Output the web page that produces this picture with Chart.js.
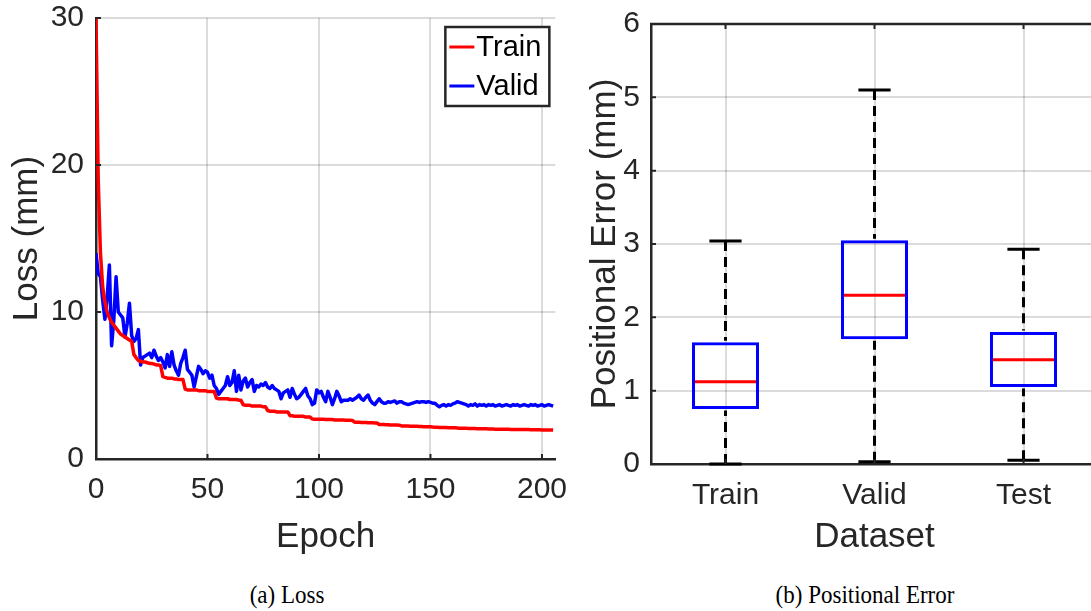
<!DOCTYPE html>
<html>
<head>
<meta charset="utf-8">
<script src="https://cdn.jsdelivr.net/npm/chart.js@4.4.1/dist/chart.umd.min.js"></script>
<style>
  html, body { margin: 0; padding: 0; background: #fff; overflow: hidden; width: 1091px; height: 611px; position: relative; }
  canvas { position: absolute; top: 0; }
  #lossChart { left: 0; }
  #errChart { left: 575px; }
  .cap { position: absolute; top: 581px; line-height: 28px; font-family: "Liberation Serif", serif; font-size: 23px; color: #000; transform: translateX(-50%) scaleY(1.12); white-space: nowrap; }
</style>
</head>
<body>
<canvas id="lossChart" width="580" height="560"></canvas>
<canvas id="errChart" width="530" height="560"></canvas>
<div class="cap" style="left:287px">(a) Loss</div>
<div class="cap" style="left:865px">(b) Positional Error</div>
<script>
// loss per epoch (epoch 0..205)
const trainLoss = [
  30, 19, 14, 11.7, 10.7, 10.0, 9.6, 9.3, 9.1, 8.9,
  8.7, 8.5, 8.4, 8.3, 8.2, 8.1, 8.0, 7.1, 6.9, 6.7,
  6.65, 6.6, 6.6, 6.55, 6.5, 6.5, 6.45, 6.4, 6.4, 6.35,
  5.6, 5.55, 5.5, 5.5, 5.5, 5.45, 5.45, 5.4, 5.4, 5.4,
  4.75, 4.7, 4.7, 4.7, 4.7, 4.7, 4.65, 4.65, 4.65, 4.65,
  4.6, 4.6, 4.6, 4.6, 4.15, 4.1, 4.1, 4.1, 4.1, 4.1,
  4.05, 4.05, 4.05, 4.05, 4.0, 4.0, 3.7, 3.65, 3.65, 3.65,
  3.6, 3.6, 3.6, 3.6, 3.6, 3.55, 3.55, 3.3, 3.25, 3.25,
  3.25, 3.2, 3.2, 3.2, 3.2, 3.2, 3.2, 2.95, 2.95, 2.9,
  2.9, 2.9, 2.9, 2.9, 2.85, 2.85, 2.85, 2.72, 2.7, 2.7,
  2.7, 2.7, 2.7, 2.68, 2.68, 2.68, 2.68, 2.66, 2.66, 2.66,
  2.65, 2.65, 2.64, 2.64, 2.63, 2.62, 2.5, 2.5, 2.5, 2.48,
  2.48, 2.48, 2.47, 2.46, 2.46, 2.45, 2.45, 2.35, 2.34, 2.34,
  2.33, 2.33, 2.32, 2.32, 2.31, 2.31, 2.3, 2.25, 2.25, 2.24,
  2.24, 2.23, 2.23, 2.22, 2.22, 2.21, 2.21, 2.2, 2.2, 2.2,
  2.19, 2.17, 2.16, 2.16, 2.15, 2.15, 2.14, 2.14, 2.13, 2.13,
  2.12, 2.12, 2.11, 2.1, 2.1, 2.09, 2.09, 2.08, 2.08, 2.07,
  2.07, 2.06, 2.06, 2.05, 2.05, 2.05, 2.04, 2.04, 2.04, 2.03,
  2.03, 2.03, 2.02, 2.02, 2.02, 2.02, 2.01, 2.01, 2.01, 2.01,
  2.0, 2.0, 2.0, 2.0, 2.0, 1.99, 1.99, 1.99, 1.99, 1.99,
  1.98, 1.98, 1.98, 1.98, 1.98, 1.97
];
const validLoss = [
  14.0, 12.6, 12.4, 10.8, 9.5, 11.0, 13.2, 7.7, 9.5, 12.4,
  10.0, 9.8, 9.6, 8.3, 9.2, 10.6, 8.4, 8.0, 8.2, 8.8,
  6.4, 6.9, 7.0, 7.1, 7.2, 6.9, 7.4, 7.0, 6.7, 6.9,
  6.6, 6.2, 7.1, 6.3, 7.3, 6.4, 6.0, 5.7, 6.5, 6.9,
  7.4, 6.1, 5.9, 5.7, 4.9, 5.6, 6.3, 6.1, 5.8, 6.0,
  5.9, 5.5, 5.7, 5.0, 4.8, 4.4, 4.6, 4.8, 5.0, 5.6,
  5.0, 5.2, 6.0, 4.6, 5.7, 4.7, 5.3, 5.5, 4.9, 5.2,
  5.4, 4.6, 5.0, 4.9, 5.1, 5.0, 5.2, 4.9, 4.8, 5.0,
  4.8, 4.7, 4.6, 4.1, 4.5, 4.6, 4.7, 4.2, 4.8, 4.4,
  4.1, 4.2, 4.4, 4.6, 4.8, 4.3, 4.1, 3.7, 3.8, 4.7,
  4.5, 4.6, 4.2, 3.9, 4.6, 4.2, 3.7, 4.1, 4.6, 4.3,
  3.9, 4.0, 4.0, 4.0, 4.1, 4.0, 4.1, 4.2, 4.35, 4.1,
  4.0, 4.2, 4.35, 4.0, 3.8, 3.7, 3.9, 4.1, 3.9, 3.8,
  3.8, 3.9, 3.85, 3.9, 3.95, 3.8, 3.9, 3.9, 3.8, 3.75,
  3.7, 3.75, 3.8, 3.85, 3.9, 3.85, 3.9, 3.9, 3.85, 3.9,
  3.85, 3.8, 3.8, 3.65, 3.55, 3.65, 3.7, 3.6, 3.7, 3.65,
  3.75, 3.8, 3.9, 3.85, 3.8, 3.75, 3.7, 3.6, 3.7, 3.65,
  3.75, 3.6, 3.7, 3.65, 3.7, 3.6, 3.7, 3.65, 3.7, 3.6,
  3.65, 3.7, 3.6, 3.65, 3.7, 3.65, 3.6, 3.7, 3.65, 3.7,
  3.6, 3.65, 3.7, 3.65, 3.6, 3.7, 3.65, 3.7, 3.6, 3.65,
  3.7, 3.6, 3.65, 3.7, 3.65, 3.6
];

// positional error box plot (mm)
const datasets = ['Train', 'Valid', 'Test'];
const whiskerLow = [0.0, 0.03, 0.05];
const q1 = [0.75, 1.70, 1.05];
const median = [1.12, 2.30, 1.42];
const q3 = [1.66, 3.05, 1.80];
const whiskerHigh = [3.04, 5.10, 2.93];

const axisColor = '#262626';
const gridColor = 'rgba(0,0,0,0.14)';
const sans = '"Liberation Sans", Arial, sans-serif';

// MATLAB style inward tick marks (+ optional top box line)
const inwardTicks = {
  id: 'inwardTicks',
  afterDatasetsDraw(chart, args, opts) {
    const { ctx, chartArea: a, scales: { x, y } } = chart;
    ctx.save();
    ctx.strokeStyle = axisColor;
    ctx.lineWidth = 2;
    ctx.beginPath();
    x.ticks.forEach((t, i) => {
      const px = x.getPixelForTick(i);
      ctx.moveTo(px, a.bottom); ctx.lineTo(px, a.bottom - 5);
      if (opts.top) { ctx.moveTo(px, a.top); ctx.lineTo(px, a.top + 5); }
    });
    y.ticks.forEach((t, i) => {
      const py = y.getPixelForTick(i);
      ctx.moveTo(a.left, py); ctx.lineTo(a.left + 5, py);
    });
    ctx.stroke();
    if (opts.top) {
      ctx.lineWidth = 2.5;
      ctx.beginPath();
      ctx.moveTo(a.left - 1, a.top); ctx.lineTo(a.right, a.top);
      ctx.stroke();
    }
    ctx.restore();
  }
};

// boxed legend in the upper right corner
const boxLegend = {
  id: 'boxLegend',
  afterDraw(chart) {
    const { ctx, chartArea: a } = chart;
    const w = 104, h = 79, right = a.right - 6, top = a.top + 9, left = right - w;
    ctx.save();
    ctx.fillStyle = '#fff';
    ctx.fillRect(left, top, w, h);
    ctx.strokeStyle = axisColor;
    ctx.lineWidth = 2.5;
    ctx.strokeRect(left, top, w, h);
    ctx.font = '29px ' + sans;
    ctx.textBaseline = 'middle';
    chart.data.datasets.forEach((ds, i) => {
      const cy = top + 20 + i * 39;
      ctx.strokeStyle = ds.borderColor;
      ctx.lineWidth = 3;
      ctx.beginPath();
      ctx.moveTo(left + 4, cy); ctx.lineTo(left + 29, cy);
      ctx.stroke();
      ctx.fillStyle = '#000';
      ctx.fillText(ds.label, left + 31, cy + 1);
    });
    ctx.restore();
  }
};

// whiskers, caps and medians on top of the box bars
const boxWhiskers = {
  id: 'boxWhiskers',
  afterDatasetsDraw(chart) {
    const { ctx, scales: { x, y } } = chart;
    const bars = chart.getDatasetMeta(0).data;
    ctx.save();
    ctx.lineWidth = 3;
    datasets.forEach((name, i) => {
      const cx = x.getPixelForValue(i);
      const half = bars[i].width / 2;
      const cap = half * 0.48;
      const yLo = y.getPixelForValue(whiskerLow[i]);
      const yHi = y.getPixelForValue(whiskerHigh[i]);
      ctx.strokeStyle = '#000';
      ctx.setLineDash([10, 6]);
      ctx.beginPath();
      ctx.moveTo(cx, yHi); ctx.lineTo(cx, y.getPixelForValue(q3[i]) - 1.5);
      ctx.moveTo(cx, yLo); ctx.lineTo(cx, y.getPixelForValue(q1[i]) + 1.5);
      ctx.stroke();
      ctx.setLineDash([]);
      ctx.beginPath();
      ctx.moveTo(cx - cap, yHi); ctx.lineTo(cx + cap, yHi);
      ctx.moveTo(cx - cap, yLo); ctx.lineTo(cx + cap, yLo);
      ctx.stroke();
      const ym = y.getPixelForValue(median[i]);
      ctx.strokeStyle = '#ff0000';
      ctx.beginPath();
      ctx.moveTo(cx - half + 3, ym); ctx.lineTo(cx + half - 3, ym);
      ctx.stroke();
    });
    ctx.restore();
  }
};

Chart.defaults.font.family = sans;
Chart.defaults.color = axisColor;
Chart.defaults.animation = false;

new Chart(document.getElementById('lossChart'), {
  type: 'line',
  data: {
    datasets: [
      { label: 'Train', data: trainLoss.map((v, i) => ({ x: i, y: v })), borderColor: '#ff0000', borderWidth: 3.5 },
      { label: 'Valid', data: validLoss.map((v, i) => ({ x: i, y: v })), borderColor: '#0000ff', borderWidth: 3.5 }
    ]
  },
  options: {
    responsive: false,
    layout: { padding: { top: 18, right: 0, left: 0, bottom: 0 } },
    elements: { point: { radius: 0 }, line: { tension: 0, borderJoinStyle: 'round' } },
    plugins: { legend: { display: false }, tooltip: { enabled: false }, inwardTicks: { top: false } },
    scales: {
      x: {
        type: 'linear', min: 0, max: 206,
        ticks: { stepSize: 50, includeBounds: false, padding: 13, font: { size: 30 }, maxRotation: 0 },
        grid: { color: gridColor, lineWidth: 2, drawTicks: false },
        border: { color: axisColor, width: 2.5 },
        title: { display: true, text: 'Epoch', font: { size: 35, lineHeight: 1.2 }, padding: { top: 0, bottom: 2 } },
        afterFit(s) { s.height = 101; }
      },
      y: {
        min: 0, max: 30,
        ticks: { stepSize: 10, padding: 12, font: { size: 30, lineHeight: 0.4 } },
        grid: { color: gridColor, lineWidth: 2, drawTicks: false },
        border: { color: axisColor, width: 2.5 },
        title: { display: true, text: 'Loss (mm)', font: { size: 35, lineHeight: 1.2 }, padding: { top: 6, bottom: 0 } },
        afterFit(s) { s.width = 96; }
      }
    }
  },
  plugins: [inwardTicks, boxLegend]
});

new Chart(document.getElementById('errChart'), {
  type: 'bar',
  data: {
    labels: datasets,
    datasets: [{
      label: 'IQR',
      data: datasets.map((d, i) => [q1[i], q3[i]]),
      backgroundColor: 'rgba(0,0,0,0)',
      borderColor: '#0000ff',
      borderWidth: 3,
      borderSkipped: false,
      barPercentage: 0.45,
      categoryPercentage: 1
    }]
  },
  options: {
    responsive: false,
    layout: { padding: { top: 24, right: 7, left: 0, bottom: 0 } },
    plugins: { legend: { display: false }, tooltip: { enabled: false }, inwardTicks: { top: true } },
    scales: {
      x: {
        ticks: { padding: 14, font: { size: 30 } },
        grid: { color: gridColor, lineWidth: 2, drawTicks: false, offset: false },
        border: { color: axisColor, width: 2.5 },
        title: { display: true, text: 'Dataset', font: { size: 35, lineHeight: 1.2 }, padding: { top: 0, bottom: 2 } },
        afterFit(s) { s.height = 96; }
      },
      y: {
        min: 0, max: 6,
        ticks: { stepSize: 1, padding: 11, font: { size: 30, lineHeight: 0.4 } },
        grid: { color: gridColor, lineWidth: 2, drawTicks: false },
        border: { color: axisColor, width: 2.5 },
        title: { display: true, text: 'Positional Error (mm)', font: { size: 35, lineHeight: 1.2 }, padding: { top: 9, bottom: 0 } },
        afterFit(s) { s.width = 76; }
      }
    }
  },
  plugins: [boxWhiskers, inwardTicks]
});
</script>
</body>
</html>
